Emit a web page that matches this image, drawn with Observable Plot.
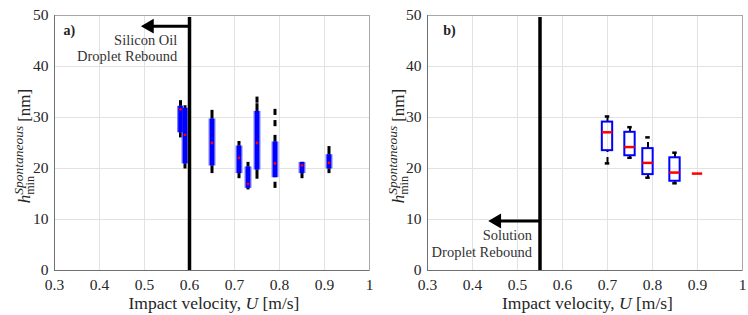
<!DOCTYPE html>
<html>
<head>
<meta charset="utf-8">
<script src="https://cdn.jsdelivr.net/npm/d3@7"></script>
<script src="https://cdn.jsdelivr.net/npm/@observablehq/plot@0.6"></script>
<style>
  html, body { margin: 0; padding: 0; background: #fff; }
  #wrap { display: flex; width: 748px; height: 315px; }
  svg text { font-family: 'Liberation Serif', 'DejaVu Serif', serif; }
</style>
</head>
<body>
<div id="wrap"></div>
<script>
// ---- data ----
const xTicks = [0.3, 0.4, 0.5, 0.6, 0.7, 0.8, 0.9, 1];
const yTicks = [0, 10, 20, 30, 40, 50];

// panel a) silicon oil (compact boxplots)
const aU   = [0.58, 0.59, 0.65, 0.71, 0.73, 0.75, 0.79, 0.85, 0.91];
const aLo  = [26.0, 19.9, 19.0, 18.0, 15.8, 17.9, 18.2, 18.0, 19.0];
const aQ1  = [27.0, 20.9, 20.5, 19.0, 16.1, 19.7, 18.2, 19.0, 19.9];
const aMed = [31.6, 26.6, 25.0, 22.1, 17.0, 25.0, 21.0, 20.6, 21.1];
const aQ3  = [32.2, 31.8, 29.7, 24.4, 20.3, 31.2, 25.2, 21.2, 22.7];
const aHi  = [33.3, 32.3, 31.4, 25.3, 21.2, 32.7, 26.5, 21.2, 24.3];
const aOutU = [0.75, 0.79, 0.79, 0.79];
const aOutV = [33.4, 28.8, 31.0, 16.7];
const aThreshold = 0.6, aArrowY = 47.9, aArrowTip = 0.502;
const aNote = ["Silicon Oil", "Droplet Rebound"];
const aNoteX = 0.573, aNoteY = [45.1, 41.9];

// panel b) solution (traditional boxplots)
const bU   = [0.70, 0.75, 0.79, 0.85, 0.90];
const bLo  = [21.0, 22.1, 18.2, 17.1, 19.0];
const bQ1  = [23.5, 22.5, 18.8, 17.5, 19.0];
const bMed = [27.1, 24.2, 21.1, 19.2, 19.0];
const bQ3  = [29.1, 27.1, 23.9, 22.1, 19.0];
const bHi  = [30.2, 28.1, 26.1, 23.1, 19.0];
const bThreshold = 0.55, bArrowY = 9.7, bArrowTip = 0.445;
const bNote = ["Solution", "Droplet Rebound"];
const bNoteX = 0.532, bNoteY = [6.9, 3.6];

const panelLabels = ["a)", "b)"];
const panelLabelX = [0.32, 0.335], panelLabelY = 47;

// ---- helpers ----
const FONT = "'Liberation Serif', 'DejaVu Serif', serif";
const TXT = "#262626";
const rowsA = aU.map((u, i) => ({u, lo: aLo[i], q1: aQ1[i], med: aMed[i], q3: aQ3[i], hi: aHi[i]}));
const outA = aOutU.map((u, i) => ({u, v: aOutV[i]}));
const rowsB = bU.map((u, i) => ({u, lo: bLo[i], q1: bQ1[i], med: bMed[i], q3: bQ3[i], hi: bHi[i]}));

function base(marginLeft, marginRight, marks) {
  return Plot.plot({
    width: 374, height: 315,
    marginLeft, marginRight, marginTop: 15, marginBottom: 45,
    style: {fontFamily: FONT, fontSize: "15.5px", color: TXT, background: "#fff"},
    x: {domain: [0.3, 1]},
    y: {domain: [0, 50]},
    marks: [
      Plot.gridX(xTicks, {stroke: "#e2e2e2", strokeOpacity: 1}),
      Plot.gridY(yTicks, {stroke: "#e2e2e2", strokeOpacity: 1}),
      Plot.frame({stroke: "#a8a8a8"}),
      Plot.ruleX([0.3], {stroke: "#707070"}),
      Plot.ruleY([0], {stroke: "#707070"}),
      Plot.axisX({ticks: xTicks, tickSize: 0, tickPadding: 8, tickFormat: d => d3.format("")(d), label: null, fontSize: 15.5, fill: TXT}),
      Plot.axisY({ticks: yTicks, tickSize: 0, tickPadding: 6, label: null, fontSize: 15.5, fill: TXT}),
      ...marks
    ]
  });
}

function addLabels(svg, left) {
  const s = d3.select(svg);
  const xl = s.append("text")
    .attr("x", (374 + left) / 2).attr("y", 309)
    .attr("text-anchor", "middle").attr("font-size", 17.5).attr("fill", TXT);
  xl.append("tspan").text("Impact velocity, ");
  xl.append("tspan").attr("font-style", "italic").text("U");
  xl.append("tspan").text(" [m/s]");

  const yl = s.append("text")
    .attr("transform", "translate(30,146) rotate(-90)")
    .attr("text-anchor", "middle").attr("font-size", 17).attr("fill", TXT);
  yl.append("tspan").attr("font-style", "italic").text("h");
  yl.append("tspan").attr("font-size", 12).attr("dy", 4).text("min");
  yl.append("tspan").attr("font-size", 13.5).attr("font-style", "italic").attr("dx", -18.7).attr("dy", -11.5).text("Spontaneous");
  yl.append("tspan").attr("dy", 7.5).attr("dx", 4).text("[nm]");
}

const noteMarks = (notes, nx, ny) => Plot.text(notes, {x: () => nx, y: (d, i) => ny[i], text: d => d, textAnchor: "end", fontSize: 14.5, fill: "#333"});
const arrowMarks = (thr, ay, tip) => [
  Plot.ruleY([ay], {x1: thr, x2: tip + 0.015, stroke: "black", strokeWidth: 3}),
  Plot.dot([tip], {x: d => d + 0.009, y: () => ay, symbol: "triangle", rotate: -90, r: 5.5, fill: "black", stroke: "none"})
];

// ---- panel a ----
const svgA = base(54, 5, [
  Plot.ruleX(rowsA, {x: "u", y1: "lo", y2: "hi", stroke: "black", strokeWidth: 3}),
  Plot.ruleX(outA, {x: "u", y1: d => d.v - 0.6, y2: d => d.v + 0.6, stroke: "black", strokeWidth: 3}),
  Plot.ruleX(rowsA, {x: "u", y1: "q1", y2: "q3", stroke: "#8080ff", strokeWidth: 7}),
  Plot.ruleX(rowsA, {x: "u", y1: "q1", y2: "q3", stroke: "#0000ff", strokeWidth: 4.5}),
  Plot.dot(rowsA, {x: "u", y: "med", r: 1.4, fill: "#ff0000", stroke: "none"}),
  Plot.ruleX([aThreshold], {y1: 0, y2: 49.6, stroke: "black", strokeWidth: 3.5}),
  ...arrowMarks(aThreshold, aArrowY, aArrowTip),
  noteMarks(aNote, aNoteX, aNoteY),
  Plot.text([panelLabels[0]], {x: () => panelLabelX[0], y: () => panelLabelY, text: d => d, textAnchor: "start", fontWeight: "bold", fontSize: 14, fill: "#222"})
]);
addLabels(svgA, 54);

// ---- panel b ----
const hw = 0.0115, cw = 0.005;
const svgB = base(53, 6, [
  Plot.ruleX(rowsB, {x: "u", y1: "q3", y2: "hi", stroke: "black", strokeWidth: 2, strokeDasharray: "6,5"}),
  Plot.ruleX(rowsB, {x: "u", y1: "lo", y2: "q1", stroke: "black", strokeWidth: 2, strokeDasharray: "6,5"}),
  Plot.ruleY(rowsB.filter(d => d.hi > d.q3), {y: "hi", x1: d => d.u - cw, x2: d => d.u + cw, stroke: "black", strokeWidth: 2.5}),
  Plot.ruleY(rowsB.filter(d => d.lo < d.q1), {y: "lo", x1: d => d.u - cw, x2: d => d.u + cw, stroke: "black", strokeWidth: 2.5}),
  Plot.rect(rowsB, {x1: d => d.u - hw, x2: d => d.u + hw, y1: "q1", y2: "q3", stroke: "#0000ff", strokeWidth: 2, fill: "none"}),
  Plot.ruleY(rowsB, {y: "med", x1: d => d.u - hw, x2: d => d.u + hw, stroke: "#ff0000", strokeWidth: 2.5}),
  Plot.ruleX([bThreshold], {y1: 0, y2: 49.6, stroke: "black", strokeWidth: 3.5}),
  ...arrowMarks(bThreshold, bArrowY, bArrowTip),
  noteMarks(bNote, bNoteX, bNoteY),
  Plot.text([panelLabels[1]], {x: () => panelLabelX[1], y: () => panelLabelY, text: d => d, textAnchor: "start", fontWeight: "bold", fontSize: 14, fill: "#222"})
]);
addLabels(svgB, 53);

document.getElementById("wrap").append(svgA, svgB);
</script>
</body>
</html>
